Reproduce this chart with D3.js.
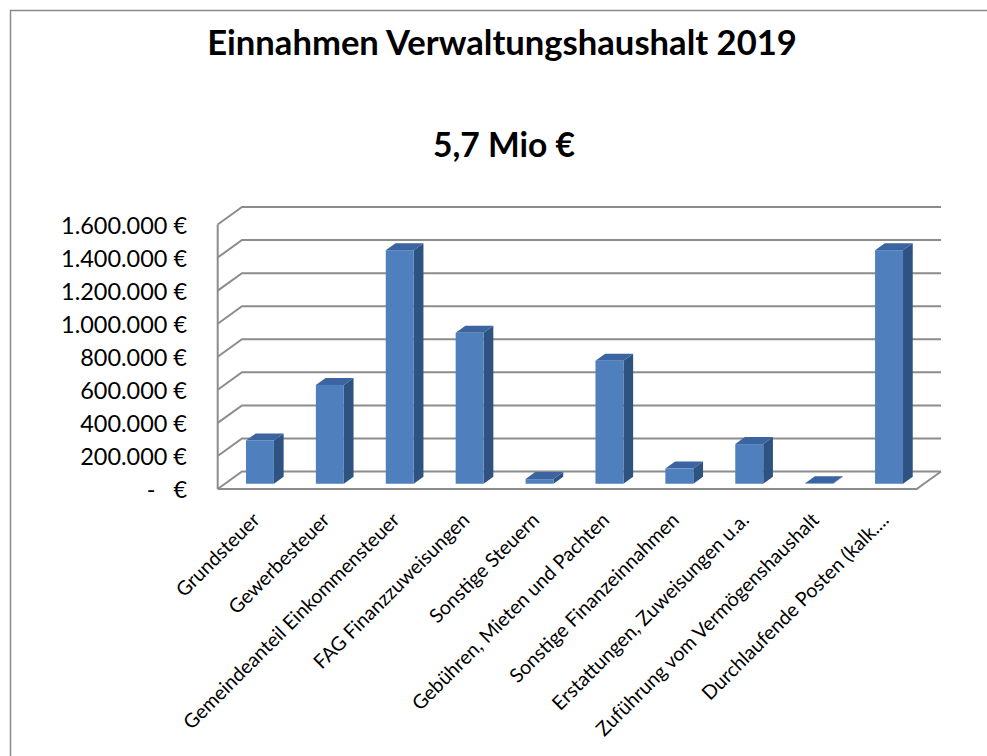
<!DOCTYPE html>
<html>
<head>
<meta charset="utf-8">
<script src="https://cdn.jsdelivr.net/npm/d3@7"></script>
<style>
  html, body { margin: 0; padding: 0; background: #fff; }
  svg { display: block; }
</style>
</head>
<body>
<svg id="chart" width="987" height="756"></svg>
<script>
const title = "Einnahmen Verwaltungshaushalt 2019";
const subtitle = "5,7 Mio €";
const categories = [
  "Grundsteuer",
  "Gewerbesteuer",
  "Gemeindeanteil Einkommensteuer",
  "FAG Finanzzuweisungen",
  "Sonstige Steuern",
  "Gebühren, Mieten und Pachten",
  "Sonstige Finanzeinnahmen",
  "Erstattungen, Zuweisungen u.a.",
  "Zuführung vom Vermögenshaushalt",
  "Durchlaufende Posten (kalk...."
];
const values = [262000, 598000, 1413000, 913000, 28000, 744000, 92000, 240000, 3000, 1413000];
const tickValues = [0, 200000, 400000, 600000, 800000, 1000000, 1200000, 1400000, 1600000];
const tickLabels = ["-   €", "200.000 €", "400.000 €", "600.000 €", "800.000 €", "1.000.000 €", "1.200.000 €", "1.400.000 €", "1.600.000 €"];

const svg = d3.select("#chart");
const FONT = "Lato, 'Open Sans', sans-serif";

// frame
svg.append("path")
  .attr("d", "M10.5,756 L10.5,10.5 L987,10.5")
  .attr("fill", "none").attr("stroke", "#8a8a8a").attr("stroke-width", 1.5);

// geometry
const X0 = 217.7, X1 = 916.7;
const DX = 24.3, DY = -17.5;
const y = d3.scaleLinear().domain([0, 1600000]).range([489, 224.5]);
const x = d3.scaleBand().domain(categories).range([X0, X1]).paddingInner(0.6).paddingOuter(0.3);

function fitText(sel, target) {
  const node = sel.node();
  const fs = parseFloat(sel.attr("font-size"));
  const w = node.getComputedTextLength();
  sel.attr("font-size", fs * target / w);
  return fs * target / w;
}

// gridlines + walls
const grid = svg.append("g").attr("fill", "none").attr("stroke", "#8c8c8c").attr("stroke-width", 2);
tickValues.forEach(t => {
  const yf = y(t);
  grid.append("path").attr("d", `M${X0},${yf} L${X0 + DX},${yf + DY} L${X1 + DX},${yf + DY}`);
});
grid.append("path").attr("d", `M${X0},${y(0)} L${X0},${y(1600000)}`);
grid.append("path").attr("d", `M${X0},${y(0)} L${X1},${y(0)} L${X1 + DX},${y(0) + DY}`);

// bars
const f0 = 0.3, f1 = 0.7;
const bars = svg.append("g");
categories.forEach((c, i) => {
  const v = values[i];
  const xl = x(c) + f0 * DX, xr = x(c) + x.bandwidth() + f0 * DX;
  const yt = y(v) + f0 * DY, yb = y(0) + f0 * DY;
  const ddx = (f1 - f0) * DX, ddy = (f1 - f0) * DY;
  bars.append("path")
    .attr("d", `M${xr},${yt} L${xr + ddx},${yt + ddy} L${xr + ddx},${yb + ddy} L${xr},${yb} Z`)
    .attr("fill", "#2f5381");
  bars.append("path")
    .attr("d", `M${xl},${yt} L${xl + ddx},${yt + ddy} L${xr + ddx},${yt + ddy} L${xr},${yt} Z`)
    .attr("fill", "#3b64a0");
  bars.append("rect")
    .attr("x", xl).attr("y", yt).attr("width", xr - xl).attr("height", Math.max(0, yb - yt))
    .attr("fill", "#4f80bd");
});

// tick labels
const tl = svg.append("g").attr("font-family", FONT).attr("fill", "#000");
const refT = tl.append("text").attr("font-size", 24).text("1.600.000 €");
const tfs = fitText(refT, 126);
refT.remove();
tickValues.forEach((t, i) => {
  tl.append("text")
    .attr("x", 187).attr("y", y(t))
    .attr("text-anchor", "end").attr("dominant-baseline", "central")
    .attr("font-size", tfs)
    .attr("xml:space", "preserve")
    .style("white-space", "pre")
    .text(tickLabels[i]);
});

// category labels
const cl = svg.append("g").attr("font-family", FONT).attr("fill", "#000");
const refC = cl.append("text").attr("font-size", 20).text(categories[2]);
const cfs = fitText(refC, 296);
refC.remove();
categories.forEach(c => {
  const ax = x(c) + x.bandwidth() / 2 + 3, ay = 516;
  cl.append("text")
    .attr("transform", `translate(${ax},${ay}) rotate(-45)`)
    .attr("text-anchor", "end").attr("dominant-baseline", "central")
    .attr("font-size", cfs)
    .text(c);
});

// titles
const t1 = svg.append("text").attr("x", 502).attr("y", 55)
  .attr("text-anchor", "middle").attr("font-family", FONT).attr("font-weight", "bold")
  .attr("font-size", 30).text(title);
fitText(t1, 590);
const t2 = svg.append("text").attr("x", 504).attr("y", 156.5)
  .attr("text-anchor", "middle").attr("font-family", FONT).attr("font-weight", "bold")
  .attr("font-size", 34).text(subtitle);
fitText(t2, 142);
</script>
</body>
</html>
